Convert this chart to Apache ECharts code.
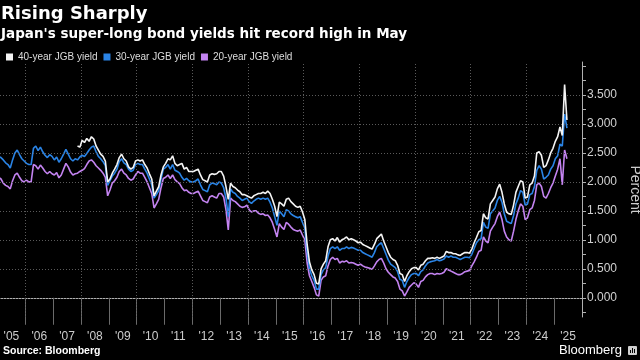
<!DOCTYPE html>
<html><head><meta charset="utf-8">
<script src="https://cdn.jsdelivr.net/npm/echarts@6/dist/echarts.min.js"></script>
<style>html,body{margin:0;padding:0;background:#000}#c{width:640px;height:360px}</style>
</head><body><div id="c"></div>
<script>
// monthly observations, first value = Jan 2005
const startYear = 2005;
const seriesNames = ['40-year JGB yield', '30-year JGB yield', '20-year JGB yield'];

const yield40 = [
 null,null,null,null,null,null,null,null,null,null,null,null,
 null,null,null,null,null,null,null,null,null,null,null,null,
 null,null,null,null,null,null,null,null,null,null,2.62,2.60,
 2.72,2.68,2.75,2.70,2.78,2.74,2.62,2.55,2.48,2.44,2.36,2.00,
 2.05,2.15,2.22,2.30,2.42,2.48,2.40,2.36,2.26,2.22,2.25,2.36,
 2.38,2.36,2.38,2.30,2.24,2.14,2.05,1.76,1.84,1.92,2.12,2.26,
 2.32,2.40,2.38,2.45,2.32,2.28,2.30,2.32,2.22,2.25,2.18,2.18,
 2.18,2.20,2.22,2.12,2.04,2.02,2.00,2.12,2.14,2.13,2.14,2.18,
 2.18,2.10,1.92,1.70,1.98,1.92,1.90,1.86,1.83,1.78,1.78,1.76,
 1.74,1.72,1.76,1.78,1.80,1.80,1.82,1.80,1.84,1.80,1.70,1.58,
 1.40,1.65,1.62,1.58,1.70,1.72,1.66,1.62,1.58,1.56,1.58,1.48,
 1.35,0.92,0.62,0.48,0.40,0.25,0.24,0.50,0.58,0.64,0.88,1.00,
 1.02,0.98,1.04,0.96,1.00,1.02,1.05,1.00,1.02,1.00,0.98,0.95,
 0.96,0.92,0.90,0.88,0.86,0.84,0.92,1.02,1.06,1.10,0.98,0.88,
 0.78,0.70,0.66,0.64,0.56,0.42,0.40,0.28,0.38,0.45,0.50,0.52,
 0.52,0.48,0.56,0.58,0.64,0.68,0.68,0.69,0.68,0.70,0.68,0.70,
 0.72,0.80,0.78,0.78,0.76,0.76,0.74,0.73,0.76,0.78,0.78,0.77,
 0.84,0.95,1.04,1.14,1.16,1.45,1.38,1.36,1.62,1.68,1.74,1.88,
 1.96,1.82,1.62,1.48,1.45,1.44,1.60,1.82,1.92,2.02,2.00,1.72,
 1.74,1.95,1.98,2.10,2.50,2.52,2.46,2.25,2.28,2.38,2.50,2.58,
 2.70,2.78,2.95,2.80,3.68,3.07
];
const yield30 = [
 2.44,2.42,2.38,2.33,2.30,2.24,2.38,2.50,2.55,2.47,2.40,2.36,
 2.32,2.30,2.30,2.58,2.62,2.54,2.60,2.52,2.46,2.42,2.47,2.44,
 2.38,2.43,2.34,2.40,2.48,2.56,2.48,2.40,2.36,2.40,2.38,2.43,
 2.46,2.44,2.49,2.55,2.60,2.62,2.52,2.44,2.40,2.35,2.28,1.94,
 2.02,2.10,2.15,2.22,2.35,2.40,2.33,2.30,2.22,2.18,2.20,2.30,
 2.32,2.30,2.30,2.22,2.15,2.05,1.95,1.72,1.78,1.85,2.05,2.22,
 2.25,2.30,2.22,2.30,2.20,2.18,2.15,2.08,2.03,2.06,2.02,2.00,
 2.00,2.02,2.05,1.95,1.87,1.85,1.83,1.95,1.98,1.97,1.95,2.00,
 1.98,1.90,1.72,1.40,1.88,1.82,1.80,1.75,1.72,1.68,1.70,1.72,
 1.66,1.63,1.67,1.70,1.72,1.70,1.72,1.70,1.72,1.65,1.55,1.40,
 1.25,1.50,1.45,1.40,1.52,1.50,1.45,1.42,1.40,1.38,1.40,1.30,
 1.20,0.80,0.50,0.38,0.30,0.15,0.15,0.40,0.48,0.52,0.72,0.85,
 0.88,0.85,0.88,0.82,0.85,0.85,0.88,0.85,0.87,0.86,0.84,0.82,
 0.82,0.78,0.76,0.74,0.72,0.70,0.78,0.88,0.92,0.95,0.85,0.75,
 0.65,0.58,0.55,0.52,0.45,0.32,0.30,0.18,0.28,0.35,0.40,0.42,
 0.42,0.38,0.45,0.48,0.55,0.60,0.62,0.63,0.64,0.66,0.64,0.65,
 0.67,0.72,0.70,0.72,0.70,0.70,0.68,0.66,0.68,0.70,0.70,0.69,
 0.75,0.85,0.95,1.00,1.02,1.30,1.22,1.20,1.45,1.50,1.55,1.68,
 1.75,1.65,1.45,1.32,1.30,1.28,1.42,1.62,1.72,1.85,1.82,1.60,
 1.62,1.78,1.80,1.92,2.20,2.28,2.22,2.05,2.08,2.12,2.22,2.28,
 2.40,2.45,2.65,2.62,3.17,2.93
];
const yield20 = [
 2.08,2.05,1.98,1.94,1.92,1.88,2.02,2.12,2.15,2.08,2.02,2.00,
 2.03,2.00,2.00,2.30,2.28,2.22,2.29,2.24,2.18,2.14,2.18,2.14,
 2.12,2.16,2.07,2.12,2.22,2.32,2.26,2.17,2.12,2.14,2.15,2.18,
 2.20,2.23,2.30,2.36,2.38,2.34,2.28,2.24,2.20,2.15,2.08,1.76,
 1.86,1.98,2.02,2.08,2.18,2.22,2.15,2.12,2.06,2.03,2.05,2.12,
 2.18,2.15,2.15,2.08,2.00,1.90,1.80,1.55,1.62,1.70,1.90,2.06,
 2.08,2.12,2.06,2.12,2.04,2.00,1.97,1.90,1.85,1.86,1.82,1.80,
 1.80,1.82,1.84,1.76,1.68,1.66,1.64,1.74,1.76,1.74,1.72,1.80,
 1.80,1.74,1.52,1.17,1.72,1.68,1.66,1.62,1.58,1.56,1.57,1.60,
 1.52,1.48,1.50,1.50,1.46,1.44,1.45,1.42,1.43,1.38,1.30,1.18,
 1.05,1.28,1.22,1.18,1.30,1.27,1.22,1.18,1.16,1.15,1.17,1.08,
 1.00,0.60,0.38,0.28,0.18,0.05,0.03,0.30,0.36,0.38,0.55,0.66,
 0.70,0.66,0.68,0.60,0.63,0.62,0.64,0.60,0.61,0.60,0.58,0.56,
 0.58,0.55,0.53,0.52,0.51,0.49,0.55,0.62,0.66,0.68,0.60,0.50,
 0.44,0.40,0.36,0.34,0.28,0.15,0.12,0.03,0.10,0.18,0.22,0.26,
 0.24,0.18,0.28,0.30,0.36,0.40,0.42,0.42,0.40,0.42,0.41,0.42,
 0.44,0.50,0.48,0.46,0.44,0.42,0.40,0.40,0.42,0.45,0.46,0.47,
 0.55,0.62,0.70,0.80,0.82,1.05,0.98,0.95,1.15,1.22,1.28,1.40,
 1.48,1.35,1.15,1.05,1.00,0.98,1.15,1.35,1.50,1.62,1.58,1.35,
 1.38,1.52,1.55,1.68,1.95,1.98,1.92,1.75,1.72,1.80,1.90,1.98,
 2.10,2.22,2.40,1.95,2.55,2.40
];

const xTickYears = [2006,2007,2008,2009,2010,2011,2012,2013,2014,2015,2016,2017,2018,2019,2020,2021,2022,2023,2024,2025];
const xLabelYears = [2005,2006,2007,2008,2009,2010,2011,2012,2013,2014,2015,2016,2017,2018,2019,2020,2021,2022,2023,2024,2025];
const xGridYears = [2006,2008,2010,2012,2014,2016,2018,2020,2022,2024];
const yTickValues = [-0.25,0,0.25,0.5,0.75,1,1.25,1.5,1.75,2,2.25,2.5,2.75,3,3.25,3.5,3.75,4];
const yLabelValues = [0,0.5,1,1.5,2,2.5,3,3.5];

const colors = ['#f4f4f4', '#2a84e6', '#c383f0'];

function toPairs(arr) {
  return arr.map((v, i) => [startYear + (i + 0.5) / 12, v]);
}

const chart = echarts.init(document.getElementById('c'), null, {renderer: 'canvas'});
const axisFont = '"Liberation Sans", Arial, sans-serif';
chart.setOption({
  backgroundColor: '#000',
  animation: false,
  grid: {left: 0, right: 58, top: 62, bottom: 43, containLabel: false, outerBoundsMode: 'none'},
  legend: {
    data: seriesNames, left: 1, top: 47, icon: 'rect', itemWidth: 7, itemHeight: 7, itemGap: 6,
    textStyle: {color: '#dddddd', fontSize: 10, fontFamily: axisFont}
  },
  xAxis: {
    type: 'value', min: 2005.09, max: 2026,
    axisLine: {show: true, lineStyle: {color: '#b0b0b0', width: 1}},
    axisTick: {show: true, customValues: xTickYears, length: 27, lineStyle: {color: '#6a6a6a'}},
    axisLabel: {
      customValues: xLabelYears.map(y => y + 0.5),
      formatter: v => "'" + String(Math.floor(v)).slice(2),
      color: '#cccccc', fontSize: 12, margin: 14, fontFamily: axisFont
    },
    splitLine: {show: false}
  },
  yAxis: {
    type: 'value', position: 'right', min: -0.332, max: 4.07,
    axisLine: {show: true, lineStyle: {color: '#b0b0b0', width: 1}},
    axisTick: {show: true, customValues: yTickValues, length: 4, lineStyle: {color: '#b0b0b0'}},
    axisLabel: {customValues: yLabelValues, formatter: v => v.toFixed(3), color: '#d0d0d0', fontSize: 12, margin: 5, fontFamily: axisFont},
    splitLine: {show: false},
    name: 'Percent', nameLocation: 'middle', nameRotate: -90, nameGap: 45,
    nameTextStyle: {color: '#cccccc', fontSize: 14, fontFamily: axisFont}
  },
  series: [
    {
      name: 'grid', type: 'line', data: toPairs(yield20), silent: true, z: 1,
      showSymbol: false, lineStyle: {opacity: 0}, itemStyle: {opacity: 0},
      markLine: {
        silent: true, symbol: 'none', label: {show: false}, animation: false,
        lineStyle: {color: '#5a5a5a', type: [1, 2], width: 1},
        data: xGridYears.map(v => ({xAxis: v})).concat(yLabelValues.map(v => ({yAxis: v})))
      }
    },
    {name: seriesNames[2], type: 'line', data: toPairs(yield20), showSymbol: false, z: 3,
     lineStyle: {width: 1.6, color: colors[2]}, itemStyle: {color: colors[2]}},
    {name: seriesNames[1], type: 'line', data: toPairs(yield30), showSymbol: false, z: 4,
     lineStyle: {width: 1.6, color: colors[1]}, itemStyle: {color: colors[1]}},
    {name: seriesNames[0], type: 'line', data: toPairs(yield40), showSymbol: false, z: 5,
     lineStyle: {width: 1.6, color: colors[0]}, itemStyle: {color: colors[0]}}
  ],
  graphic: [
    {type: 'text', left: 1, top: 5, style: {text: 'Rising Sharply', fill: '#ffffff', font: 'bold 18px "DejaVu Sans"'}},
    {type: 'text', left: 1, top: 27, style: {text: "Japan's super-long bond yields hit record high in May", fill: '#ffffff', font: 'bold 13.5px "DejaVu Sans"'}},
    {type: 'text', left: 3, top: 346, style: {text: 'Source: Bloomberg', fill: '#ffffff', font: 'bold 10.5px "Liberation Sans"'}},
    {type: 'text', left: 559, top: 344, style: {text: 'Bloomberg', fill: '#ffffff', font: '13px "Liberation Sans"'}},
    {type: 'rect', left: 628, top: 346, shape: {width: 9, height: 9, r: 1}, style: {fill: '#cfcfcf'}},
    {type: 'rect', left: 630, top: 350, shape: {width: 1, height: 3}, style: {fill: '#000'}},
    {type: 'rect', left: 632, top: 348, shape: {width: 1, height: 5}, style: {fill: '#000'}},
    {type: 'rect', left: 634, top: 349, shape: {width: 1, height: 4}, style: {fill: '#000'}}
  ]
});
</script></body></html>
